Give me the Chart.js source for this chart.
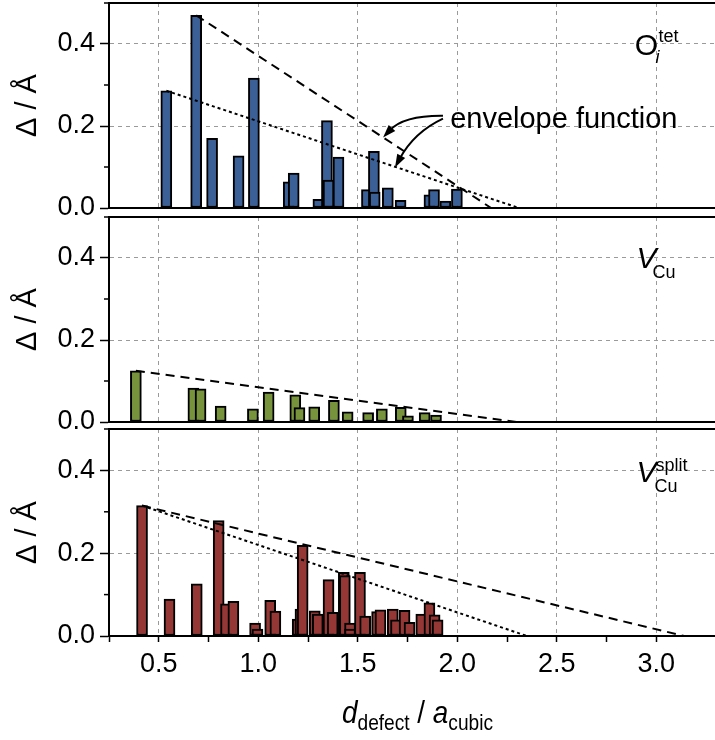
<!DOCTYPE html>
<html>
<head>
<meta charset="utf-8">
<script src="https://cdn.jsdelivr.net/npm/chart.js@4.4.1/dist/chart.umd.min.js"></script>
<style>
html, body { margin: 0; padding: 0; background: #fff; overflow: hidden; }
#wrap { position: relative; width: 715px; height: 740px; overflow: hidden; }
canvas { position: absolute; left: 0; }
</style>
</head>
<body>
<div id="wrap">
  <canvas id="c1" width="726" height="232" style="top:0px"></canvas>
  <canvas id="c2" width="726" height="241" style="top:205px"></canvas>
  <canvas id="c3" width="726" height="323" style="top:417px"></canvas>
</div>
<script>
// O_i^tet displacements vs distance
const oTetX = [0.538, 0.688, 0.768, 0.901, 0.978, 1.153, 1.178, 1.302, 1.345, 1.353, 1.403, 1.546, 1.581, 1.585, 1.651, 1.715, 1.860, 1.883, 1.940, 1.998];
const oTetY = [0.286, 0.470, 0.170, 0.127, 0.317, 0.064, 0.085, 0.021, 0.213, 0.068, 0.124, 0.045, 0.138, 0.039, 0.049, 0.019, 0.032, 0.045, 0.017, 0.046];

// V_Cu
const vCuX = [0.385, 0.674, 0.710, 0.811, 0.973, 1.052, 1.186, 1.207, 1.281, 1.380, 1.449, 1.552, 1.621, 1.716, 1.752, 1.836, 1.893];
const vCuY = [0.125, 0.083, 0.081, 0.039, 0.032, 0.073, 0.066, 0.035, 0.037, 0.053, 0.025, 0.023, 0.032, 0.036, 0.015, 0.023, 0.017];

// V_Cu^split
const vSplitX = [0.416, 0.554, 0.691, 0.801, 0.838, 0.875, 0.984, 0.996, 1.060, 1.086, 1.198, 1.212, 1.223, 1.284, 1.299, 1.353, 1.374, 1.430, 1.435, 1.461, 1.461, 1.511, 1.537, 1.597, 1.614, 1.676, 1.692, 1.735, 1.760, 1.819, 1.860, 1.886, 1.901];
const vSplitY = [0.315, 0.089, 0.126, 0.279, 0.078, 0.084, 0.031, 0.017, 0.086, 0.060, 0.041, 0.065, 0.219, 0.061, 0.053, 0.136, 0.057, 0.154, 0.146, 0.031, 0.017, 0.154, 0.048, 0.059, 0.063, 0.065, 0.039, 0.062, 0.033, 0.053, 0.080, 0.051, 0.039];

// envelope functions (start point, zero crossing)
const oTetDashX = [0.688, 2.17];
const oTetDashY = [0.470, 0];
const oTetDotX = [0.538, 2.31];
const oTetDotY = [0.286, 0];
const vCuDashX = [0.385, 2.30];
const vCuDashY = [0.125, 0];
const vSplitDashX = [0.416, 3.14];
const vSplitDashY = [0.315, 0];
const vSplitDotX = [0.416, 2.35];
const vSplitDotY = [0.315, 0];

// tick labels
const xTicks = [0.5, 1.0, 1.5, 2.0, 2.5, 3.0];
const yTicks = [0.0, 0.2, 0.4];

const FONT = "'Liberation Sans', Arial, sans-serif";
const GRID = '#9a9a9a';
const NONE = 'rgba(0,0,0,0)';

const pts = (xs, ys) => xs.map((x, i) => ({ x: x, y: ys[i] }));
const isMajorX = v => xTicks.some(t => Math.abs(t - v) < 1e-6);
const isMajorY = v => yTicks.some(t => Math.abs(t - v) < 1e-6);

// draw a curved arrow (quadratic) given in data units
function arrow(ctx, x, y, p0, c, p1) {
    const sx = x.getPixelForValue(p0[0]), sy = y.getPixelForValue(p0[1]);
    const cx = x.getPixelForValue(c[0]), cy = y.getPixelForValue(c[1]);
    const ex = x.getPixelForValue(p1[0]), ey = y.getPixelForValue(p1[1]);
    const ang = Math.atan2(ey - cy, ex - cx);
    const len = 13, hw = 4.5;
    const bx = ex - len * Math.cos(ang), by = ey - len * Math.sin(ang);
    ctx.lineWidth = 2;
    ctx.beginPath();
    ctx.moveTo(sx, sy);
    ctx.quadraticCurveTo(cx, cy, bx + 3 * Math.cos(ang), by + 3 * Math.sin(ang));
    ctx.stroke();
    ctx.beginPath();
    ctx.moveTo(ex, ey);
    ctx.lineTo(bx - hw * Math.sin(ang), by + hw * Math.cos(ang));
    ctx.lineTo(bx + hw * Math.sin(ang), by - hw * Math.cos(ang));
    ctx.closePath();
    ctx.fill();
}

// panel labels
function labelOTet(ctx, cx, cy) {
    ctx.textAlign = 'center';
    ctx.font = '30px ' + FONT;
    ctx.fillText('O', cx, cy + 11);
    ctx.textAlign = 'left';
    ctx.font = '18px ' + FONT;
    ctx.fillText('tet', cx + 12, cy - 2);
    ctx.font = 'italic 18px ' + FONT;
    ctx.fillText('i', cx + 9, cy + 19);
}
function labelVCu(ctx, cx, cy) {
    ctx.textAlign = 'center';
    ctx.font = 'italic 30px ' + FONT;
    ctx.fillText('V', cx, cy + 10);
    ctx.textAlign = 'left';
    ctx.font = '18px ' + FONT;
    ctx.fillText('Cu', cx + 6, cy + 20);
}
function labelVSplit(ctx, cx, cy) {
    ctx.textAlign = 'center';
    ctx.font = 'italic 30px ' + FONT;
    ctx.fillText('V', cx, cy + 11.5);
    ctx.textAlign = 'left';
    ctx.font = '18px ' + FONT;
    ctx.fillText('split', cx + 9, cy + 0.5);
    ctx.fillText('Cu', cx + 8, cy + 21.5);
}

function framePlugin(opts) {
    return {
        id: 'frame',
        afterDraw(chart) {
            const { ctx, chartArea: a, scales: { x, y } } = chart;
            ctx.save();
            ctx.strokeStyle = '#000';
            ctx.fillStyle = '#000';
            // top border
            ctx.lineWidth = 2;
            ctx.beginPath();
            ctx.moveTo(a.left - 1, a.top);
            ctx.lineTo(a.right, a.top);
            ctx.stroke();
            // minor y ticks
            ctx.lineWidth = 1.5;
            [0.1, 0.3, 0.5].forEach(v => {
                const p = y.getPixelForValue(v);
                ctx.beginPath();
                ctx.moveTo(a.left - 5, p);
                ctx.lineTo(a.left, p);
                ctx.stroke();
            });
            // panel label
            ctx.textBaseline = 'alphabetic';
            opts.label(ctx, x.getPixelForValue(2.95), y.getPixelForValue(0.4));

            if (opts.annotate) {
                ctx.textAlign = 'left';
                ctx.font = '29px ' + FONT;
                ctx.fillText('envelope function', x.getPixelForValue(1.964), y.getPixelForValue(0.196));
                arrow(ctx, x, y, [1.928, 0.225], [1.732, 0.226], [1.627, 0.172]);
                arrow(ctx, x, y, [1.928, 0.218], [1.783, 0.185], [1.687, 0.099]);
            }

            if (opts.xTitle) {
                // slightly condensed, like the original figure's font
                const sx = 0.87;
                const parts = [
                    { t: 'd', f: 'italic 32px ' + FONT, dy: 0 },
                    { t: 'defect', f: '22px ' + FONT, dy: 7 },
                    { t: ' / ', f: '32px ' + FONT, dy: 0 },
                    { t: 'a', f: 'italic 32px ' + FONT, dy: 0 },
                    { t: 'cubic', f: '22px ' + FONT, dy: 7 }
                ];
                let w = 0;
                parts.forEach(p => { ctx.font = p.f; p.w = ctx.measureText(p.t).width; w += p.w; });
                const cxp = x.getPixelForValue(1.8);
                const base = a.bottom + 87;
                ctx.translate(cxp, base);
                ctx.scale(sx, 1);
                let px = -w / 2;
                ctx.textAlign = 'left';
                parts.forEach(p => {
                    ctx.font = p.f;
                    ctx.fillText(p.t, px, p.dy);
                    px += p.w;
                });
            }
            ctx.restore();
        }
    };
}

function makePanel(id, bars, color, envelopes, opts) {
    const datasets = envelopes.map(e => ({
        type: 'line',
        data: e.data,
        borderColor: '#000',
        borderWidth: 2,
        borderDash: e.dash,
        pointRadius: 0,
        order: 0
    }));
    datasets.push({
        type: 'bar',
        data: bars,
        backgroundColor: color,
        borderColor: '#000',
        borderWidth: 2,
        borderSkipped: false,
        barThickness: 11,
        order: 1
    });

    new Chart(document.getElementById(id), {
        type: 'bar',
        data: { datasets: datasets },
        options: {
            responsive: false,
            animation: false,
            events: [],
            layout: { padding: { top: opts.top, left: 0, right: 0, bottom: 0 } },
            plugins: { legend: { display: false }, tooltip: { enabled: false } },
            scales: {
                x: {
                    type: 'linear',
                    min: 0.25,
                    max: 3.35,
                    offset: false,
                    ticks: {
                        stepSize: 0.25,
                        autoSkip: false,
                        maxRotation: 0,
                        display: opts.showX,
                        padding: 6,
                        color: '#000',
                        font: { family: FONT, size: 27 },
                        callback: v => isMajorX(v) ? v.toFixed(1) : ''
                    },
                    grid: {
                        offset: false,
                        color: c => isMajorX(c.tick.value) ? GRID : NONE,
                        lineWidth: 1,
                        drawTicks: opts.showX,
                        tickLength: 6,
                        tickWidth: 1.5,
                        tickColor: c => c.tick.value > 3.3 ? NONE : '#000'
                    },
                    border: { display: true, color: '#000', width: 2, dash: [4, 4], z: 1 },
                    afterFit: s => { s.height = opts.xh; s.paddingLeft = 0; s.paddingRight = 0; }
                },
                y: {
                    min: 0,
                    max: 0.5,
                    ticks: {
                        stepSize: 0.1,
                        padding: 5,
                        color: '#000',
                        font: { family: FONT, size: 27 },
                        callback: v => isMajorY(v) ? v.toFixed(1) : ''
                    },
                    grid: {
                        color: c => (isMajorY(c.tick.value) && c.tick.value > 0.01) ? GRID : NONE,
                        lineWidth: 1,
                        tickLength: 9,
                        tickWidth: 1.5,
                        tickColor: c => isMajorY(c.tick.value) ? '#000' : NONE
                    },
                    border: { display: true, color: '#000', width: 2, dash: [4, 4], z: 1 },
                    title: {
                        display: true,
                        text: 'Δ / Å',
                        color: '#000',
                        font: { family: FONT, size: 29 },
                        padding: { top: 11, bottom: 0 }
                    },
                    afterFit: s => { s.width = 109; s.paddingTop = 0; s.paddingBottom = 0; }
                }
            }
        },
        plugins: [framePlugin(opts)]
    });
}

makePanel('c1', pts(oTetX, oTetY), '#3a6097', [
    { data: pts(oTetDashX, oTetDashY), dash: [9, 6] },
    { data: pts(oTetDotX, oTetDotY), dash: [3, 3] }
], { top: 3, xh: 24, showX: false, label: labelOTet, annotate: true });

makePanel('c2', pts(vCuX, vCuY), '#77933c', [
    { data: pts(vCuDashX, vCuDashY), dash: [9, 6] }
], { top: 12, xh: 24, showX: false, label: labelVCu });

makePanel('c3', pts(vSplitX, vSplitY), '#953735', [
    { data: pts(vSplitDashX, vSplitDashY), dash: [9, 6] },
    { data: pts(vSplitDotX, vSplitDotY), dash: [3, 3] }
], { top: 12, xh: 104, showX: true, label: labelVSplit, xTitle: true });
</script>
</body>
</html>
